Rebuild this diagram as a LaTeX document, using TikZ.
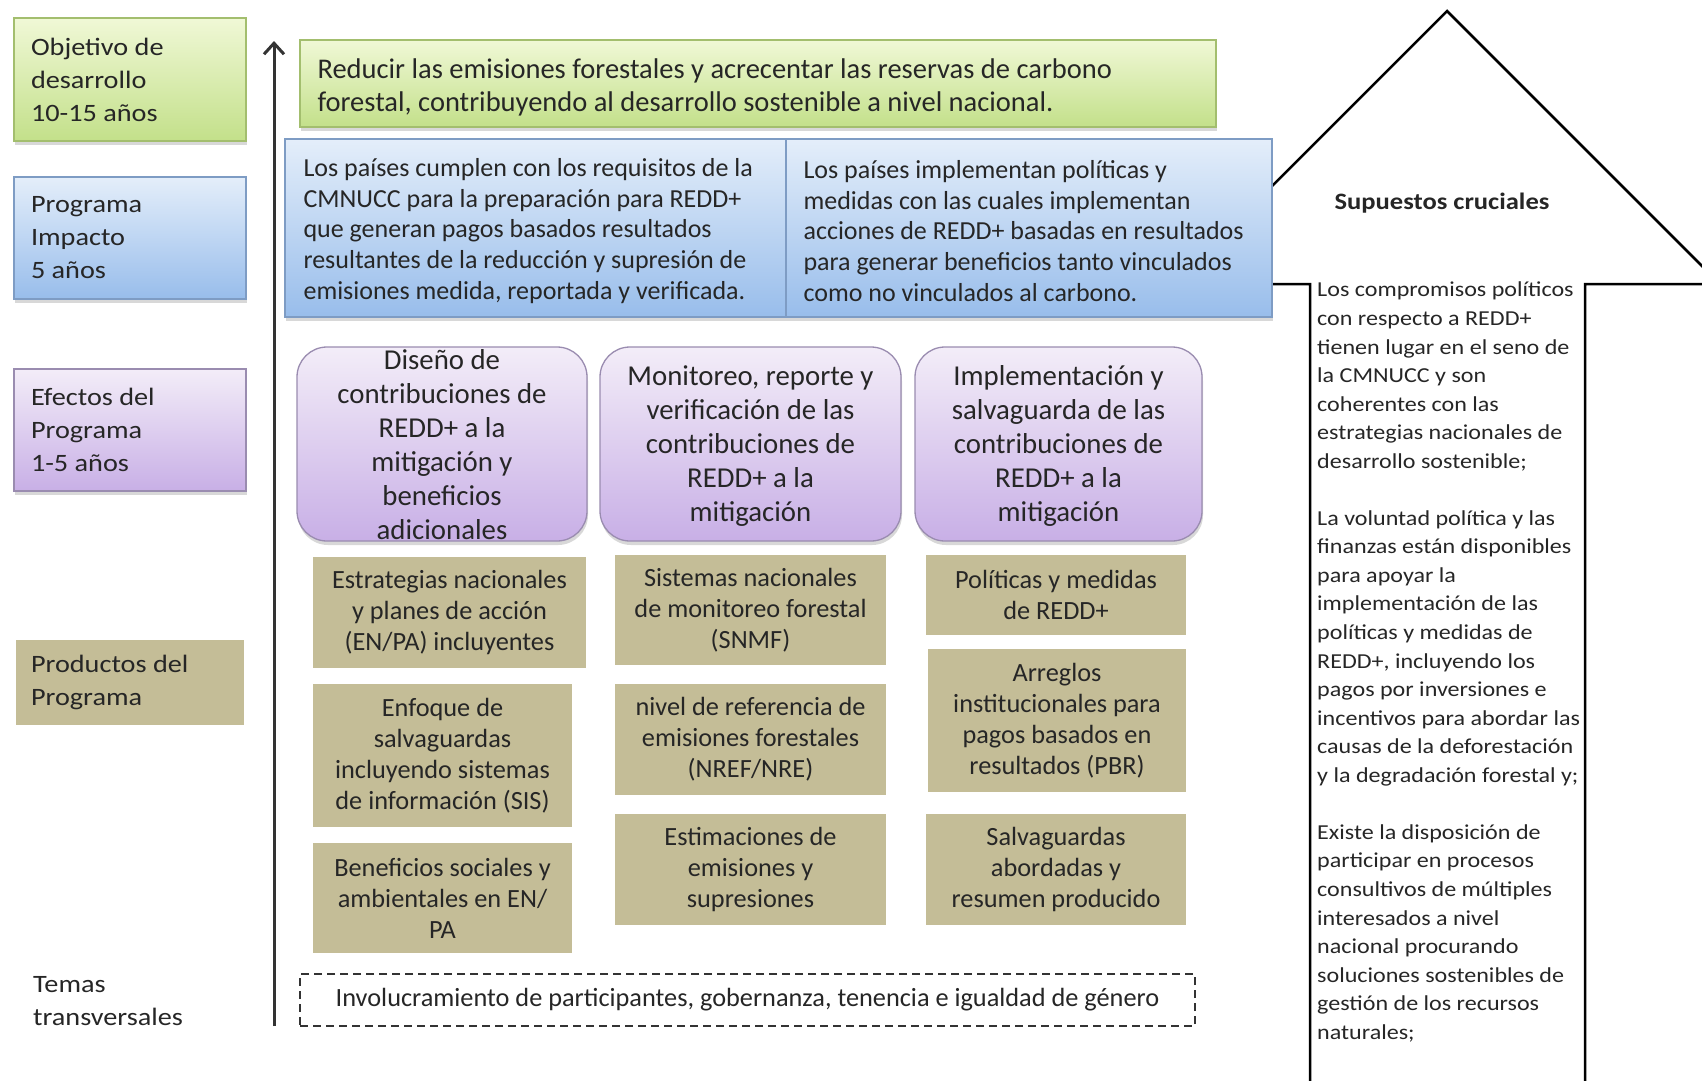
\documentclass[tikz,border=0pt]{standalone}
\usepackage{fontspec}
\setmainfont{Carlito}
\newfontfamily\widefont[FakeStretch=1.13]{Carlito}
\usetikzlibrary{arrows.meta,shadows}
\definecolor{txt}{HTML}{262626}
\definecolor{greenTop}{HTML}{F0F8D6}
\definecolor{greenBot}{HTML}{C3E08A}
\definecolor{greenBd}{HTML}{A3BE6E}
\definecolor{blueTop}{HTML}{E4EEFA}
\definecolor{blueBot}{HTML}{98BDEB}
\definecolor{blueBd}{HTML}{7E9CC4}
\definecolor{purTop}{HTML}{F3EDF8}
\definecolor{purBot}{HTML}{C8AFE6}
\definecolor{purBd}{HTML}{9A8CB0}
\definecolor{tan}{HTML}{C4BD97}
\begin{document}
\begin{tikzpicture}[x=1pt,y=-1pt,
  every node/.style={text=txt},
  shad/.style={drop shadow={opacity=0.30,shadow xshift=1pt,shadow yshift=-4pt}},
  greenbox/.style={draw=greenBd,line width=1.3pt,top color=greenTop,bottom color=greenBot,shad},
  bluebox/.style={draw=blueBd,line width=1.3pt,top color=blueTop,bottom color=blueBot,shad},
  purbox/.style={draw=purBd,line width=1.3pt,top color=purTop,bottom color=purBot,shad},
  tanbox/.style={fill=tan,inner sep=0pt,align=center,font=\fontsize{26.3}{31}\selectfont},
  lefttxt/.style={align=flush left,inner ysep=0pt,font=\widefont\fontsize{25}{33}\selectfont},
  maintxt/.style={align=flush left,inner sep=0pt},
  ctr/.style={align=center,inner sep=0pt},
  axis/.style={draw=black!80,line width=3pt,-{Straight Barb[length=11pt,width=20pt,line width=3pt]}},
  house/.style={draw=black,line width=2.5pt,fill=white},
  crossbox/.style={draw=black!80,line width=2.3pt,dash pattern=on 8pt off 5pt,inner sep=0pt}
]
\useasboundingbox (0,0) rectangle (1702,1080);
\fill[white] (0,0) rectangle (1702,1080);

% house-shaped arrow (assumptions)
\begin{scope}
\clip (0,0) rectangle (1702,1080);
\coordinate (hBL) at (1310,1095);
\coordinate (hSL) at (1310,284);
\coordinate (hEL) at (1174,284);
\coordinate (hA) at (1447,11);
\coordinate (hER) at (1720,284);
\coordinate (hSR) at (1585,284);
\coordinate (hBR) at (1585,1095);
\draw[house] (hBL) -- (hSL) -- (hEL) -- (hA) -- (hER) -- (hSR) -- (hBR);
\end{scope}
\node[font=\widefont\bfseries\fontsize{23.5}{28}\selectfont] (sup) at (1442,203) {Supuestos cruciales};
\node[anchor=west,align=flush left,inner sep=0pt,font=\widefont\fontsize{21.3}{28.55}\selectfont] (assump) at (1317,662)
 {Los compromisos políticos\\con respecto a REDD+\\tienen lugar en el seno de\\la CMNUCC y son\\coherentes con las\\estrategias nacionales de\\desarrollo sostenible;\\[28.55pt]La voluntad política y las\\finanzas están disponibles\\para apoyar la\\implementación de las\\políticas y medidas de\\REDD+, incluyendo los\\pagos por inversiones e\\incentivos para abordar las\\causas de la deforestación\\y la degradación forestal y;\\[28.55pt]Existe la disposición de\\participar en procesos\\consultivos de múltiples\\interesados a nivel\\nacional procurando\\soluciones sostenibles de\\gestión de los recursos\\naturales;};

% left labels
\node[greenbox,lefttxt,inner xsep=17pt,text width=198pt,minimum height=123pt] (lobj) at (130,79.5) {Objetivo de\\desarrollo\\10-15 años};
\node[bluebox,lefttxt,inner xsep=17pt,text width=198pt,minimum height=122pt] (limp) at (130,238) {Programa\\Impacto\\5 años};
\node[purbox,lefttxt,inner xsep=17pt,text width=198pt,minimum height=122pt] (lefe) at (130,430) {Efectos del\\Programa\\1-5 años};
\node[fill=tan,lefttxt,inner xsep=15pt,text width=198pt,minimum height=85pt] (lprod) at (130,682.5) {Productos del\\Programa};
\node[lefttxt,anchor=west,inner xsep=0pt] (ltem) at (33,1001) {Temas\\transversales};

% vertical axis
\coordinate (axisbot) at (274,1026);
\coordinate (axistop) at (274,41);
\draw[axis] (axisbot) -- (axistop);

% objective
\node[greenbox,minimum width=916pt,minimum height=87pt,inner sep=0pt] (goal) at (758,83.5) {};
\node[maintxt,anchor=west,font=\fontsize{28.5}{33.5}\selectfont] (goalt) at ([xshift=18pt,yshift=-4pt]goal.west)
 {Reducir las emisiones forestales y acrecentar las reservas de carbono\\forestal, contribuyendo al desarrollo sostenible a nivel nacional.};

% impact
\node[bluebox,minimum width=501pt,minimum height=178pt,inner sep=0pt] (impL) at (535.5,228) {};
\node[bluebox,minimum width=486pt,minimum height=178pt,inner sep=0pt] (impR) at (1029,228) {};
\node[maintxt,anchor=west,font=\fontsize{26}{30.7}\selectfont] (impLt) at ([xshift=19pt,yshift=-3pt]impL.west)
 {Los países cumplen con los requisitos de la\\CMNUCC para la preparación para REDD+\\que generan pagos basados resultados\\resultantes de la reducción y supresión de\\emisiones medida, reportada y verificada.};
\node[maintxt,anchor=west,font=\fontsize{26}{30.7}\selectfont] (impRt) at ([xshift=18pt,yshift=-3pt]impR.west)
 {Los países implementan políticas y\\medidas con las cuales implementan\\acciones de REDD+ basadas en resultados\\para generar beneficios tanto vinculados\\como no vinculados al carbono.};

% outcomes
\node[purbox,rounded corners=30pt,minimum width=290pt,minimum height=194pt,inner sep=0pt] (pA) at (442,444) {};
\node[purbox,rounded corners=30pt,minimum width=301pt,minimum height=194pt,inner sep=0pt] (pB) at (750.5,444) {};
\node[purbox,rounded corners=30pt,minimum width=287pt,minimum height=194pt,inner sep=0pt] (pC) at (1058.5,444) {};
\node[ctr,font=\fontsize{28.8}{34}\selectfont] (pAt) at ([yshift=-1pt]pA.center) {Diseño de\\contribuciones de\\REDD+ a la\\mitigación y\\beneficios\\adicionales};
\node[ctr,font=\fontsize{28.8}{34}\selectfont] (pBt) at ([yshift=-2pt]pB.center) {Monitoreo, reporte y\\verificación de las\\contribuciones de\\REDD+ a la\\mitigación};
\node[ctr,font=\fontsize{28.8}{34}\selectfont] (pCt) at ([yshift=-2pt]pC.center) {Implementación y\\salvaguarda de las\\contribuciones de\\REDD+ a la\\mitigación};

% outputs
\node[tanbox,minimum width=273pt,minimum height=111pt] (tA) at (449.5,612.5) {Estrategias nacionales\\y planes de acción\\(EN/PA) incluyentes};
\node[tanbox,minimum width=259pt,minimum height=143pt] (tB) at (442.5,755.5) {Enfoque de\\salvaguardas\\incluyendo sistemas\\de información (SIS)};
\node[tanbox,minimum width=259pt,minimum height=110pt] (tC) at (442.5,898) {Beneficios sociales y\\ambientales en EN/\\PA};
\node[tanbox,minimum width=271pt,minimum height=110pt] (tD) at (750.5,610) {Sistemas nacionales\\de monitoreo forestal\\(SNMF)};
\node[tanbox,minimum width=271pt,minimum height=111pt] (tE) at (750.5,739.5) {nivel de referencia de\\emisiones forestales\\(NREF/NRE)};
\node[tanbox,minimum width=271pt,minimum height=111pt] (tF) at (750.5,869.5) {Estimaciones de\\emisiones y\\supresiones};
\node[tanbox,minimum width=260pt,minimum height=80pt] (tG) at (1056,595) {Políticas y medidas\\de REDD+};
\node[tanbox,minimum width=258pt,minimum height=143pt] (tH) at (1057,720.5) {Arreglos\\institucionales para\\pagos basados en\\resultados (PBR)};
\node[tanbox,minimum width=260pt,minimum height=111pt] (tI) at (1056,869.5) {Salvaguardas\\abordadas y\\resumen producido};

% cross-cutting
\node[crossbox,minimum width=895pt,minimum height=52pt,font=\fontsize{26.3}{30}\selectfont] (cross) at (747.5,1000)
 {Involucramiento de participantes, gobernanza, tenencia e igualdad de género};
\end{tikzpicture}
\end{document}
